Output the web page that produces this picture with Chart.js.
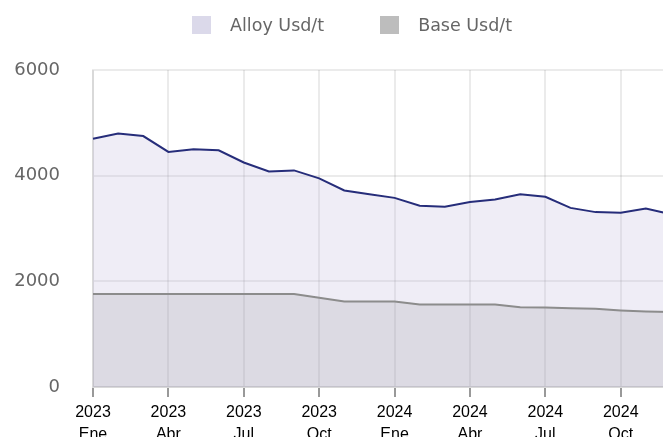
<!DOCTYPE html>
<html>
<head>
<meta charset="utf-8">
<script src="https://cdn.jsdelivr.net/npm/chart.js@4/dist/chart.umd.min.js"></script>
<style>
  html, body { margin: 0; padding: 0; overflow: hidden; background: #fff; }
  #wrap { position: relative; width: 680px; height: 447px; }
  #legend {
    position: absolute; left: 192px; top: 16px; height: 18px;
    display: flex; align-items: center;
    font-family: 'DejaVu Sans', sans-serif; font-size: 17.5px; color: #666;
  }
  #legend .item { display: flex; align-items: center; }
  #legend .item + .item { margin-left: 56px; }
  #legend .box { width: 19px; height: 18px; margin-right: 19px; }
</style>
</head>
<body>
<div id="wrap">
  <canvas id="myChart"></canvas>
  <div id="legend"></div>
</div>
<script>
const years = ['2023', '2023', '2023', '2023', '2023', '2023', '2023', '2023', '2023', '2023', '2023', '2023',
               '2024', '2024', '2024', '2024', '2024', '2024', '2024', '2024', '2024', '2024', '2024', '2024'];
const monthNames = ['Ene', 'Feb', 'Mar', 'Abr', 'May', 'Jun', 'Jul', 'Ago', 'Sep', 'Oct', 'Nov', 'Dic',
                    'Ene', 'Feb', 'Mar', 'Abr', 'May', 'Jun', 'Jul', 'Ago', 'Sep', 'Oct', 'Nov', 'Dic'];
const seriesNames = ['Alloy Usd/t', 'Base Usd/t'];
const alloy = [4700, 4800, 4750, 4450, 4500, 4480, 4250, 4080, 4100, 3950, 3720, 3650,
               3580, 3430, 3410, 3500, 3550, 3650, 3600, 3390, 3310, 3300, 3380, 3270];
const base = [1760, 1760, 1760, 1760, 1760, 1760, 1760, 1760, 1760, 1690, 1620, 1620,
              1620, 1560, 1560, 1560, 1560, 1510, 1505, 1490, 1480, 1450, 1430, 1420];
const yTicks = [0, 2000, 4000, 6000];

const legendColors = ['#dbd9ea', '#bdbdbd'];

const labels = years.map((y, i) => [y, monthNames[i]]);

const ctx = document.getElementById('myChart').getContext('2d');
const myChart = new Chart(ctx, {
    type: 'line',
    data: {
        labels,
        datasets: [{
            label: seriesNames[0],
            data: alloy,
            borderColor: '#262d7a',
            backgroundColor: 'rgba(190, 185, 220, 0.25)',
            borderWidth: 2,
            pointRadius: 0,
            fill: 'origin',
            tension: 0,
            order: 1
        }, {
            label: seriesNames[1],
            data: base,
            borderColor: '#8c8c8c',
            backgroundColor: 'rgba(120, 120, 122, 0.16)',
            borderWidth: 2,
            pointRadius: 0,
            fill: 'origin',
            tension: 0,
            order: 0
        }]
    },
    options: {
        responsive: true,
        maintainAspectRatio: false,
        animation: false,
        layout: { padding: { top: 70, right: 9, left: 0, bottom: 0 } },
        plugins: {
            legend: { display: false },
            tooltip: { enabled: false }
        },
        scales: {
            x: {
                grid: { color: 'rgba(0,0,0,0.08)', lineWidth: 2, tickColor: '#999', tickWidth: 2, tickLength: 10 },
                border: { color: 'rgba(0,0,0,0.08)', width: 2 },
                ticks: {
                    autoSkip: false,
                    maxRotation: 0,
                    padding: 5,
                    color: '#000',
                    font: { family: "'Liberation Sans', Arial, sans-serif", size: 16, lineHeight: 1.375 },
                    callback: (v, i) => (i % 3 === 0 ? labels[i] : null)
                },
                afterFit: scale => { scale.height = 60; }
            },
            y: {
                min: yTicks[0],
                max: yTicks[yTicks.length - 1],
                grid: { color: 'rgba(0,0,0,0.08)', lineWidth: 2, drawTicks: false },
                border: { color: 'rgba(0,0,0,0.08)', width: 2 },
                afterBuildTicks: scale => { scale.ticks = yTicks.map(v => ({ value: v })); },
                ticks: {
                    padding: 33,
                    color: '#666',
                    font: { family: "'DejaVu Sans', sans-serif", size: 18 },
                    callback: v => String(v)
                },
                afterFit: scale => { scale.width = 93; }
            }
        }
    }
});

// leyenda en html
const legendDiv = document.getElementById('legend');
myChart.data.datasets.forEach((ds, i) => {
    const item = document.createElement('div');
    item.className = 'item';
    const box = document.createElement('span');
    box.className = 'box';
    box.style.background = legendColors[i];
    const txt = document.createElement('span');
    txt.textContent = ds.label;
    item.appendChild(box);
    item.appendChild(txt);
    legendDiv.appendChild(item);
});
</script>
</body>
</html>
